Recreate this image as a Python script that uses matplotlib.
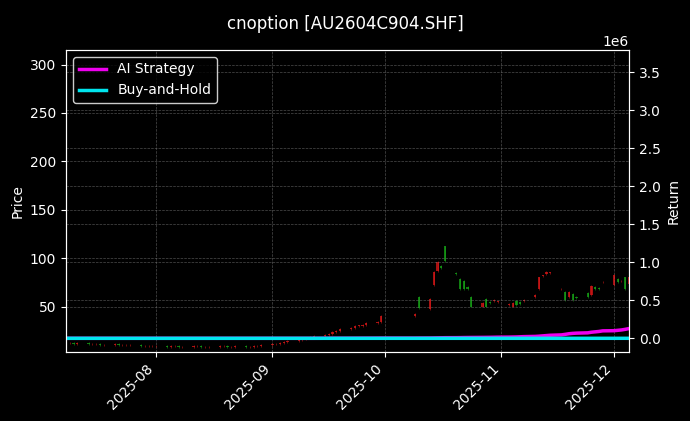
import matplotlib
matplotlib.use("Agg")
import matplotlib.pyplot as plt
import matplotlib.dates as mdates
import numpy as np
import pandas as pd

dates = [d for d in pd.bdate_range("2025-07-08", "2025-12-05")
         if not (pd.Timestamp("2025-10-01") <= d <= pd.Timestamp("2025-10-08"))]

opens = ([13,12,12,11,12,11,11,11,10,10,11,10,10,10,10,9,9,9] +
         [9,9,8,9,9,8,8,9,9,8,8,8,9,9,8,8,9,8,8,9,9] +
         [10,11,11,12,13,14,15,16,18,19,20,21,22,24,25,27,28,30,30,31,33,34] +
         [40,60,47,72,87,92,112,85,78,76,70,60,50,58,55,56,55] +
         [52,50,56,55,56,60,68,82,84,85,68,65,60,63,60,64,62,70,69,75] +
         [72,78,76,80,73])
closes = ([12,12,11,12,11,11,11,10,10,11,10,10,10,10,9,9,9,9] +
          [9,8,9,9,8,8,9,9,8,8,8,9,9,8,8,9,8,8,9,9,10] +
          [11,11,12,13,14,15,16,18,19,20,21,22,24,25,27,28,30,30,31,33,34,40] +
          [42,48,58,86,96,90,97,84,68,68,68,50,54,50,54,57,55] +
          [53,54,52,53,57,62,80,82,86,85,68,57,65,57,59,60,71,68,68,75] +
          [83,75,76,68,80])
strategy = ([0]*18 + [0]*21 +
            [0,0,0,0,0,0,0,0,0,0,500,500,800,1000,1000,1200,1500,1500,2000,2000,2500,3000] +
            [3000,3500,4000,5000,6000,7000,8000,8500,9000,10000,10500,11000,12000,12500,13000,14000,15000] +
            [16000,17000,18000,20000,22000,25000,28000,32000,36000,40000,45000,52000,60000,65000,68000,72000,80000,85000,90000,98000] +
            [100000,105000,110000,118000,128000])
buyhold = [c / closes[0] - 1 for c in closes]

fig = plt.figure(figsize=(6.9, 4.21), dpi=100, facecolor="black")
ax = fig.add_axes([66/690, 1-352/421, (629-66)/690, (352-50)/421])
ax.set_facecolor("black")
x = mdates.date2num(dates)
for xi, o, c in zip(x, opens, closes):
    col = "#e01818" if c >= o else "#18a818"
    lo, hi = min(o, c), max(o, c)
    ax.vlines(xi, lo - 1, hi + 1, color=col, lw=0.6, alpha=0.6)
    ax.bar(xi, max(hi - lo, 0.6), bottom=lo, width=0.6, color=col, alpha=0.75)
ax.set_ylim(3, 315)
ax.set_xlim(mdates.date2num(pd.Timestamp("2025-07-08")), mdates.date2num(pd.Timestamp("2025-12-05")))
ax.set_ylabel("Price", color="white")
ax.grid(True, color="gray", ls="--", lw=0.5, alpha=0.6)
ax.xaxis.set_major_locator(mdates.MonthLocator())
ax.xaxis.set_major_formatter(mdates.DateFormatter("%Y-%m"))
plt.setp(ax.get_xticklabels(), rotation=45, ha="right")

ax2 = ax.twinx()
ax2.plot(dates, strategy, color="#ee00ee", lw=2.5, label="AI Strategy")
ax2.plot(dates, buyhold, color="#00e5ee", lw=2.5, label="Buy-and-Hold")
ax2.set_ylim(-0.18e6, 3.79e6)
ax2.set_ylabel("Return", color="white")
ax2.grid(True, color="gray", ls="--", lw=0.5, alpha=0.6)
for a in (ax, ax2):
    a.tick_params(colors="white")
    for s in a.spines.values():
        s.set_color("white")
ax2.yaxis.get_offset_text().set_color("white")
leg = ax2.legend(loc="upper left", facecolor="black", edgecolor="white", labelcolor="white")
fig.suptitle("cnoption [AU2604C904.SHF]", color="white", y=0.965)
fig.savefig("out.png", dpi=100, facecolor="black")
